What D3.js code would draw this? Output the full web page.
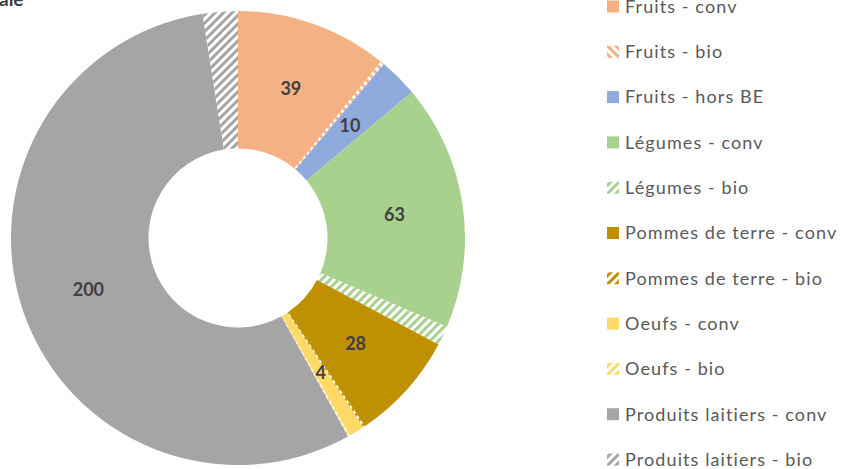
<!DOCTYPE html>
<meta charset="utf-8">
<style>
body { margin: 0; background: #fff; }
svg { display: block; font-family: Lato, "Open Sans", sans-serif; }
.legend text { fill: #595959; font-size: 18px; letter-spacing: 1.1px; }
.labels text { fill: #404040; font-size: 18px; font-weight: bold; }
.title { fill: #404040; font-size: 19px; font-weight: bold; }
</style>
<svg id="chart" width="841" height="469"></svg>
<script src="https://d3js.org/d3.v7.min.js"></script>
<script>

// slices, clockwise from 12 o'clock
var categories = ["Fruits - conv", "Fruits - bio", "Fruits - hors BE",
  "Légumes - conv", "Légumes - bio",
  "Pommes de terre - conv", "Pommes de terre - bio",
  "Oeufs - conv", "Oeufs - bio",
  "Produits laitiers - conv", "Produits laitiers - bio"];
var values = [39, 1, 10, 63, 5, 28, 0.5, 4, 0.5, 200, 9];
var labels = ["39", "", "10", "63", "", "28", "", "4", "", "200", ""];
var colors = ["#F4B183", "#F4B183", "#8FAADC", "#A9D18E", "#A9D18E",
  "#BF9000", "#BF9000", "#FFD966", "#FFD966", "#A5A5A5", "#A5A5A5"];
var hatched = [false, true, false, false, true, false, true, false, true, false, true];

var svg = d3.select("#chart"),
    cx = 238, cy = 238,
    outerR = 227, innerR = 89.5;

var defs = svg.append("defs");
categories.forEach(function(c, i) {
  if (!hatched[i]) return;
  var p = defs.append("pattern")
      .attr("id", "hatch" + i)
      .attr("patternUnits", "userSpaceOnUse")
      .attr("width", 6).attr("height", 6)
      .attr("patternTransform", "rotate(" + (i === 1 ? -45 : 45) + ")");
  p.append("rect").attr("width", 6).attr("height", 6).attr("fill", colors[i]);
  p.append("rect").attr("width", 3).attr("height", 6).attr("fill", "#fff");
});

function fillOf(i) { return hatched[i] ? "url(#hatch" + i + ")" : colors[i]; }

var pie = d3.pie().sort(null).value(function(d) { return d; });
var arc = d3.arc().innerRadius(innerR).outerRadius(outerR);
var arcs = pie(values);

var g = svg.append("g").attr("transform", "translate(" + cx + "," + cy + ")");

g.append("g").selectAll("path")
  .data(arcs)
  .enter().append("path")
    .attr("d", arc)
    .attr("fill", function(d, i) { return fillOf(i); });

g.append("g").attr("class", "labels").selectAll("text")
  .data(arcs)
  .enter().append("text")
    .attr("transform", function(d) { return "translate(" + arc.centroid(d) + ")"; })
    .attr("text-anchor", "middle")
    .attr("dy", "0.35em")
    .text(function(d, i) { return labels[i]; });

// title, mostly cut off by the top-left edge
svg.append("text").attr("class", "title")
    .attr("x", -1).attr("y", 6)
    .text("ale");

var legend = svg.append("g").attr("class", "legend");
var ly = d3.scalePoint().domain(categories).range([6.5, 459.5]);

var item = legend.selectAll("g")
  .data(categories)
  .enter().append("g")
    .attr("transform", function(d) { return "translate(607," + ly(d) + ")"; });

item.append("rect")
    .attr("x", 0).attr("y", -6)
    .attr("width", 12).attr("height", 12)
    .attr("fill", function(d, i) { return fillOf(i); });

item.append("text")
    .attr("x", 18).attr("dy", "0.35em")
    .text(function(d) { return d; });

</script>
